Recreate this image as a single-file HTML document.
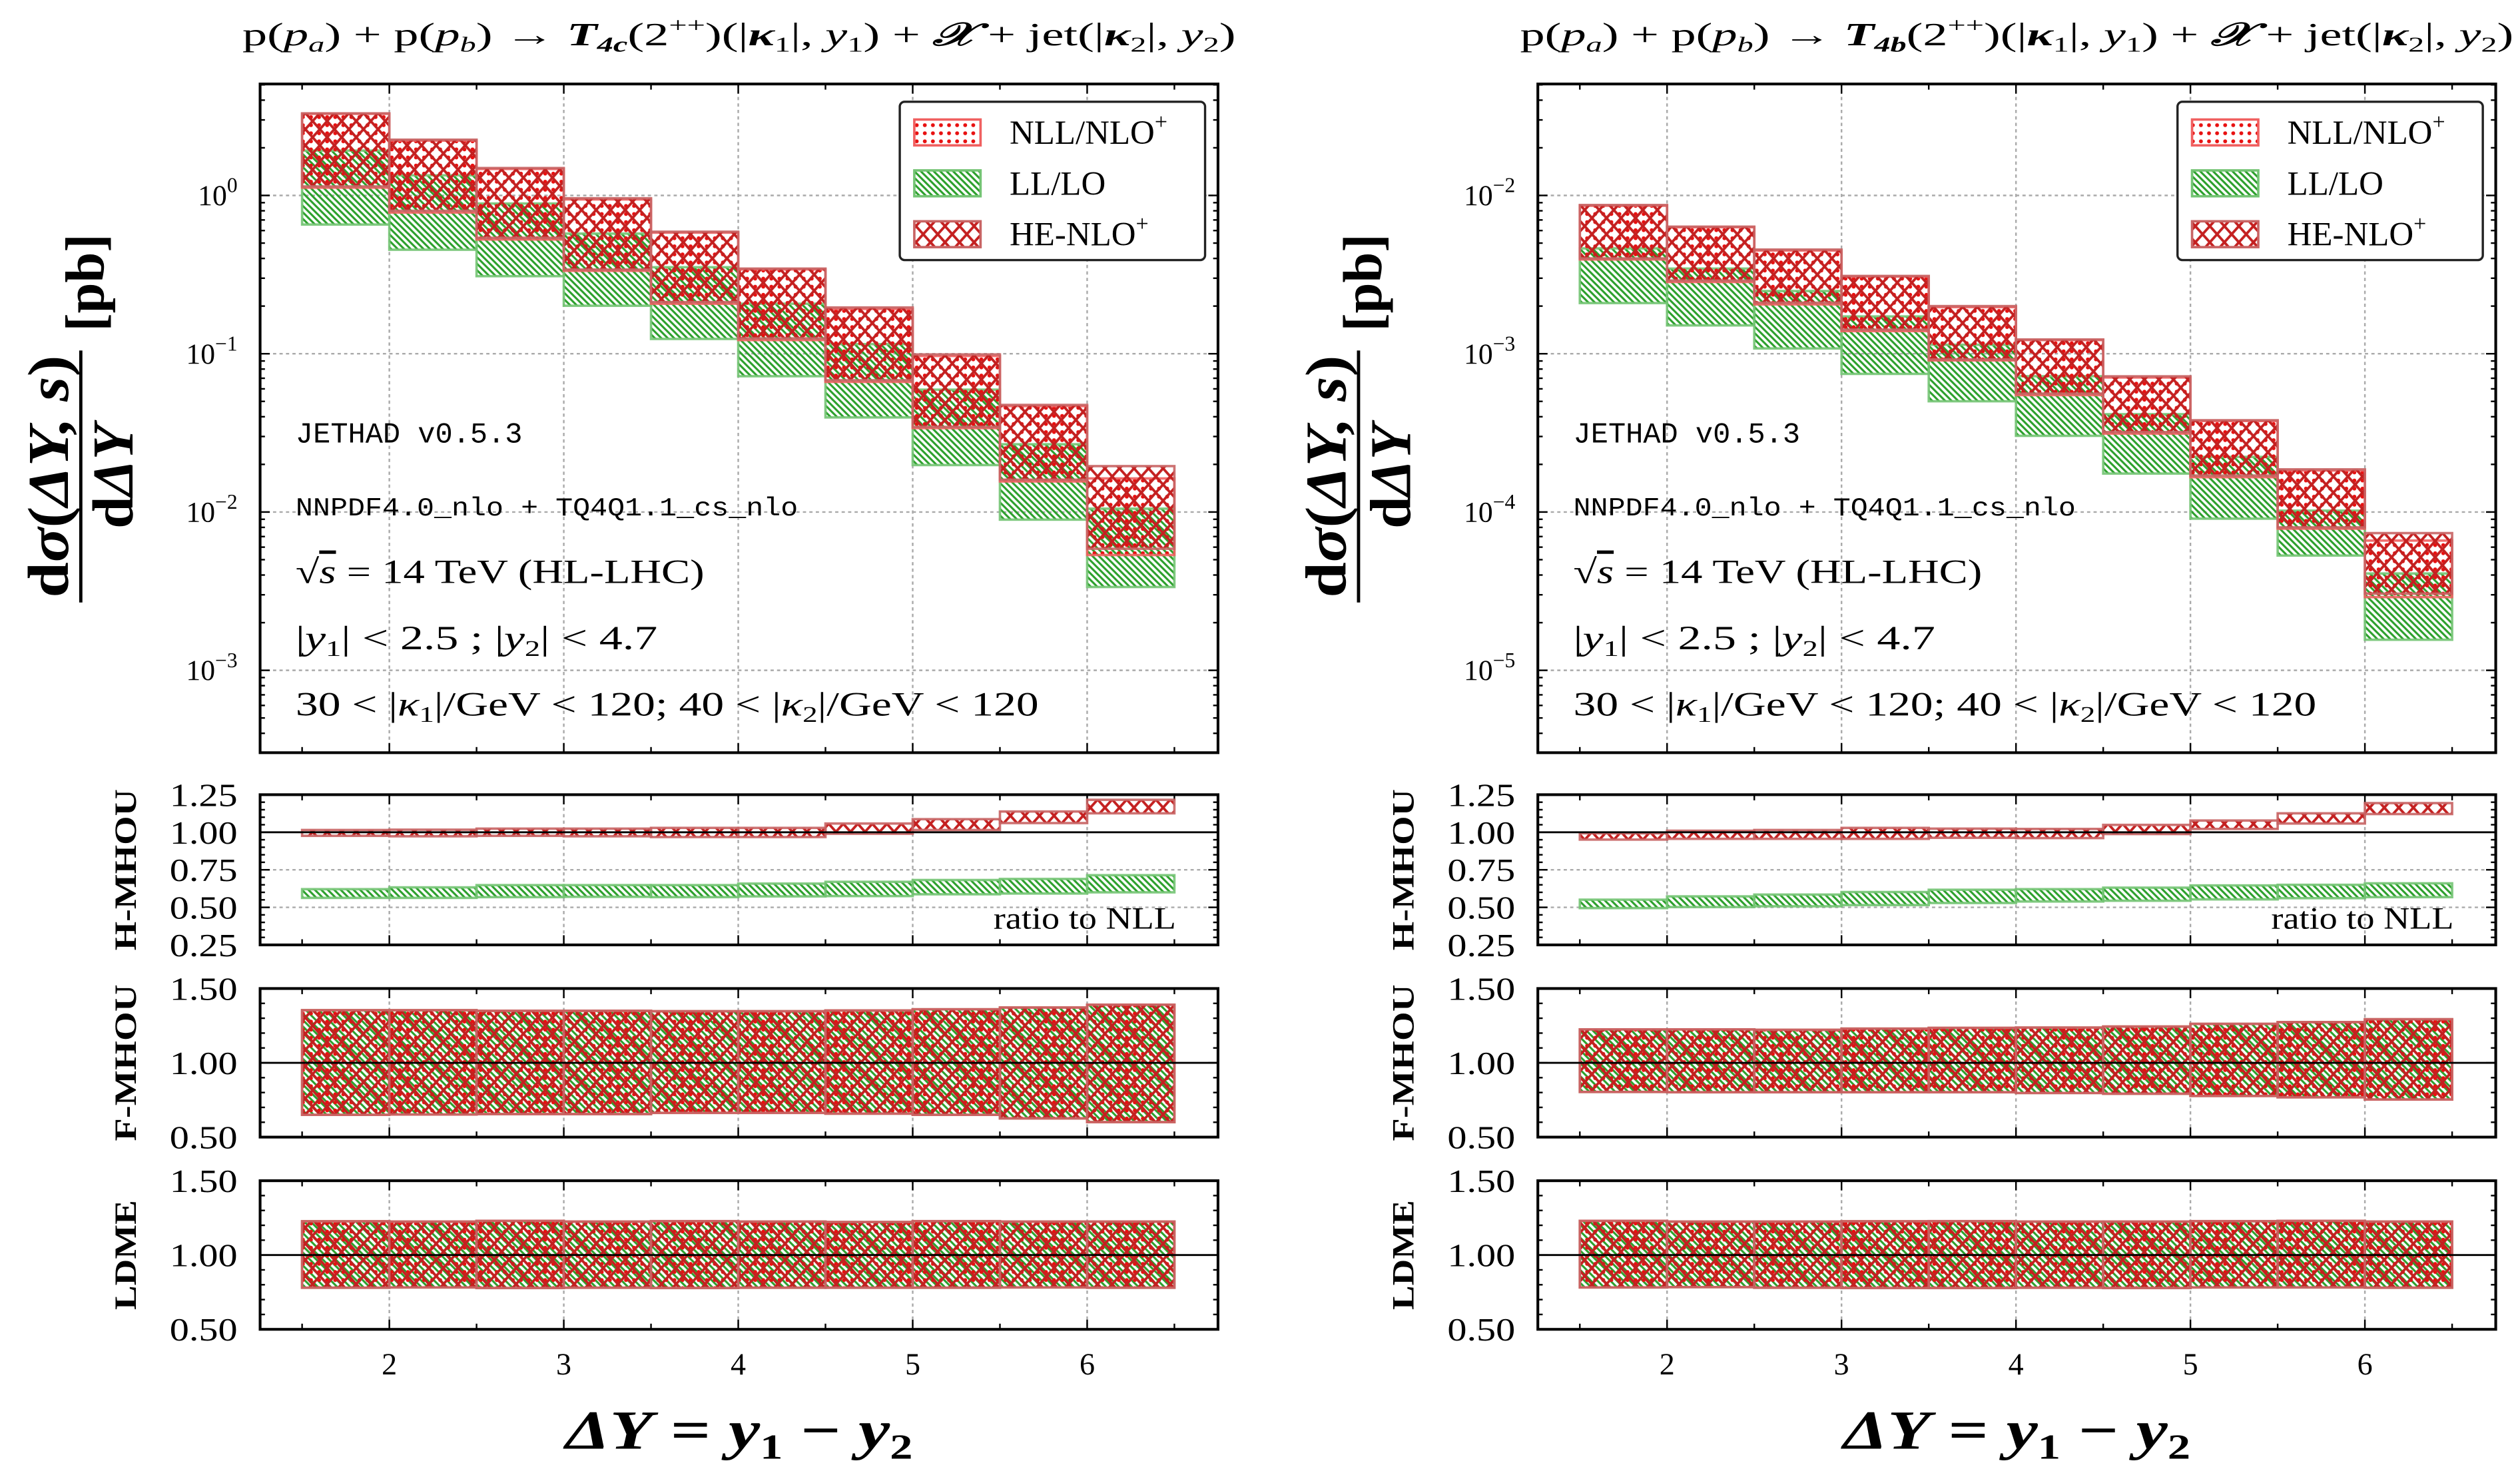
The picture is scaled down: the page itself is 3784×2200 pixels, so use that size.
<!DOCTYPE html>
<html><head><meta charset="utf-8"><style>
html,body{margin:0;padding:0;background:#fff}
svg{display:block}
text{font-family:"Liberation Serif",serif;fill:#000}
.mono{font-family:"Liberation Mono",monospace}
</style></head><body>
<svg id="chart" xmlns="http://www.w3.org/2000/svg" width="3784" height="2200" viewBox="0 0 1560 907">
<defs>
<pattern id="pLL" patternUnits="userSpaceOnUse" width="4" height="4"><path d="M-1,-1 L5,5 M-1,3 L1,5 M3,-1 L5,1" stroke="#2ca02c" stroke-width="1.3"/></pattern>
<pattern id="pNLL" patternUnits="userSpaceOnUse" width="5" height="5"><circle cx="2.5" cy="2.5" r="1.2" fill="#e81010"/></pattern>
<pattern id="pHE" patternUnits="userSpaceOnUse" width="9" height="10"><path d="M0,0 L9,10 M9,0 L0,10" stroke="#c42020" stroke-width="1.6"/></pattern>
</defs>
<g id="plots"></g>
<text x="150" y="28" font-size="20" textLength="615" lengthAdjust="spacingAndGlyphs">p(<tspan font-style="italic">p</tspan><tspan font-style="italic" font-size="13" dy="4">a</tspan><tspan dy="-4">) + p(</tspan><tspan font-style="italic">p</tspan><tspan font-style="italic" font-size="13" dy="4">b</tspan><tspan dy="-4">) → </tspan><tspan font-style="italic" font-weight="bold">T</tspan><tspan font-size="13" dy="4" font-weight="bold" font-style="italic">4c</tspan><tspan dy="-4">(2</tspan><tspan font-size="13" dy="-8">++</tspan><tspan dy="8">)(|</tspan><tspan font-style="italic" font-weight="bold">κ</tspan><tspan font-size="13" dy="4">1</tspan><tspan dy="-4">|, </tspan><tspan font-style="italic">y</tspan><tspan font-size="13" dy="4">1</tspan><tspan dy="-4">) + </tspan><tspan font-style="italic" font-weight="bold">𝒳</tspan><tspan> + jet(|</tspan><tspan font-style="italic" font-weight="bold">κ</tspan><tspan font-size="13" dy="4">2</tspan><tspan dy="-4">|, </tspan><tspan font-style="italic">y</tspan><tspan font-size="13" dy="4">2</tspan><tspan dy="-4">)</tspan></text>
<text x="941" y="28" font-size="20" textLength="615" lengthAdjust="spacingAndGlyphs">p(<tspan font-style="italic">p</tspan><tspan font-style="italic" font-size="13" dy="4">a</tspan><tspan dy="-4">) + p(</tspan><tspan font-style="italic">p</tspan><tspan font-style="italic" font-size="13" dy="4">b</tspan><tspan dy="-4">) → </tspan><tspan font-style="italic" font-weight="bold">T</tspan><tspan font-size="13" dy="4" font-weight="bold" font-style="italic">4b</tspan><tspan dy="-4">(2</tspan><tspan font-size="13" dy="-8">++</tspan><tspan dy="8">)(|</tspan><tspan font-style="italic" font-weight="bold">κ</tspan><tspan font-size="13" dy="4">1</tspan><tspan dy="-4">|, </tspan><tspan font-style="italic">y</tspan><tspan font-size="13" dy="4">1</tspan><tspan dy="-4">) + </tspan><tspan font-style="italic" font-weight="bold">𝒳</tspan><tspan> + jet(|</tspan><tspan font-style="italic" font-weight="bold">κ</tspan><tspan font-size="13" dy="4">2</tspan><tspan dy="-4">|, </tspan><tspan font-style="italic">y</tspan><tspan font-size="13" dy="4">2</tspan><tspan dy="-4">)</tspan></text>
</svg>
<script>
const NS='http://www.w3.org/2000/svg';
// ---- data ----
const binStarts=[1.5,2,2.5,3,3.5,4,4.5,5,5.5,6];
const binWidth=0.5;
const xTicks=[2,3,4,5,6];
// left (T4c), pb
const L_nllHi=[3.28,2.22,1.47,0.944,0.582,0.341,0.192,0.0968,0.0467,0.0163];
const L_nllLo=[1.12,0.78,0.527,0.334,0.207,0.122,0.0664,0.0339,0.0156,0.00535];
const L_heHi=[3.30,2.25,1.49,0.96,0.59,0.345,0.196,0.099,0.0475,0.0195];
const L_heLo=[1.14,0.80,0.54,0.34,0.212,0.125,0.068,0.0345,0.016,0.00586];
const L_llHi=[1.92,1.34,0.889,0.574,0.352,0.207,0.115,0.0593,0.0268,0.0105];
const L_llLo=[0.655,0.454,0.309,0.201,0.124,0.0721,0.0396,0.0198,0.00895,0.00336];
// right (T4b), pb
const R_nllHi=[8.61e-3,6.30e-3,4.49e-3,3.07e-3,1.97e-3,1.22e-3,7.08e-4,3.76e-4,1.83e-4,6.6e-5];
const R_nllLo=[3.94e-3,2.84e-3,2.05e-3,1.39e-3,9.08e-4,5.48e-4,3.13e-4,1.66e-4,7.85e-5,2.9e-5];
const R_heHi=[8.7e-3,6.35e-3,4.55e-3,3.1e-3,2.0e-3,1.23e-3,7.2e-4,3.8e-4,1.86e-4,7.36e-5];
const R_heLo=[4.0e-3,2.9e-3,2.1e-3,1.42e-3,9.2e-4,5.6e-4,3.2e-4,1.7e-4,8.0e-5,3.05e-5];
const R_llHi=[4.63e-3,3.45e-3,2.49e-3,1.72e-3,1.14e-3,7.21e-4,4.15e-4,2.23e-4,1.02e-4,4.09e-5];
const R_llLo=[2.09e-3,1.51e-3,1.08e-3,7.46e-4,5.01e-4,3.03e-4,1.75e-4,9.08e-5,5.31e-5,1.56e-5];
// H-MHOU ratio to NLL
const L_hHeHi=[1.015,1.017,1.024,1.024,1.029,1.029,1.058,1.087,1.138,1.216];
const L_hHeLo=[0.976,0.973,0.976,0.973,0.968,0.968,0.990,1.015,1.061,1.126];
const L_hLlHi=[0.621,0.633,0.648,0.648,0.648,0.658,0.670,0.682,0.689,0.714];
const L_hLlLo=[0.563,0.563,0.568,0.570,0.568,0.573,0.575,0.587,0.592,0.600];
const R_hHeHi=[0.993,1.010,1.015,1.029,1.024,1.022,1.049,1.078,1.126,1.194];
const R_hHeLo=[0.951,0.956,0.956,0.956,0.963,0.961,0.988,1.022,1.058,1.121];
const R_hLlHi=[0.551,0.573,0.585,0.602,0.617,0.621,0.631,0.646,0.650,0.660];
const R_hLlLo=[0.495,0.502,0.507,0.515,0.529,0.539,0.544,0.553,0.561,0.568];
// F-MHOU
const L_fHi=[1.354,1.354,1.350,1.350,1.347,1.347,1.352,1.360,1.372,1.391];
const L_fLo=[0.650,0.652,0.655,0.655,0.663,0.663,0.658,0.650,0.626,0.601];
const R_fHi=[1.225,1.225,1.222,1.230,1.235,1.237,1.244,1.262,1.274,1.293];
const R_fLo=[0.804,0.802,0.802,0.802,0.802,0.797,0.792,0.777,0.768,0.753];
// LDME
const L_lHi=[1.227,1.225,1.230,1.225,1.228,1.225,1.222,1.228,1.225,1.225];
const L_lLo=[0.780,0.782,0.778,0.780,0.778,0.780,0.780,0.780,0.782,0.780];
const R_lHi=[1.230,1.225,1.225,1.227,1.228,1.225,1.225,1.228,1.230,1.225];
const R_lLo=[0.782,0.784,0.780,0.778,0.778,0.780,0.778,0.782,0.782,0.780];

const root=document.getElementById('plots');
function mk(tag,attrs,parent){const e=document.createElementNS(NS,tag);for(const k in attrs)e.setAttribute(k,attrs[k]);(parent||root).appendChild(e);return e;}

const FX0=161,FX1=754;
function xmap(v,ox){return ox+241+(v-2)*108;}

const styles={
 ll:{fill:'url(#pLL)',stroke:'#74c474'},
 nll:{fill:'url(#pNLL)',stroke:'#f06060'},
 he:{fill:'url(#pHE)',stroke:'#c86464'}
};
function bands(ox,ymap,lo,hi,st,name,g){
  for(let i=0;i<binStarts.length;i++){
    const x0=xmap(binStarts[i],ox),x1=xmap(binStarts[i]+binWidth,ox);
    const y0=ymap(hi[i]),y1=ymap(lo[i]);
    const r=mk('rect',{x:x0,y:y0,width:x1-x0,height:y1-y0,fill:st.fill,stroke:st.stroke,'stroke-width':1.5,'stroke-opacity':0.9},g);
    
    
  }
}
function frame(ox,y0,y1,name){
  const r=mk('rect',{x:ox+FX0,y:y0,width:FX1-FX0,height:y1-y0,fill:'none',stroke:'#000','stroke-width':1.7});
  
  
}
function vgrid(ox,y0,y1,g){
  xTicks.forEach(t=>{const x=xmap(t,ox);
    const l=mk('line',{x1:x,x2:x,y1:y0,y2:y1,stroke:'#aaa','stroke-width':1,'stroke-dasharray':'2,2'},g);
    
    });
}
function xticks(ox,y0,y1,g){
  for(let v=1.5;v<=6.5;v+=0.5){const x=xmap(v,ox);const maj=Number.isInteger(v);const L=maj?6:3.5;
    mk('line',{x1:x,x2:x,y1:y1,y2:y1-L,stroke:'#000','stroke-width':1},g);
    mk('line',{x1:x,x2:x,y1:y0,y2:y0+L,stroke:'#000','stroke-width':1},g);}
}
function yticksLin(ox,ymap,lo,hi,minStep,majStep,g){
  const n=Math.round((hi-lo)/minStep);
  for(let i=0;i<=n;i++){const v=lo+i*minStep;const y=ymap(v);
    const maj=Math.abs(v/majStep-Math.round(v/majStep))<1e-6;const L=maj?6:3;
    mk('line',{x1:ox+FX0,x2:ox+FX0+L,y1:y,y2:y,stroke:'#000','stroke-width':1},g);
    mk('line',{x1:ox+FX1,x2:ox+FX1-L,y1:y,y2:y,stroke:'#000','stroke-width':1},g);}
}

function panel(side,ox,dec0,D){
  const g=mk('g',{});
  
  
  const Y0=52,Y1=466;
  const ym=v=>121-(Math.log10(v)-dec0)*98;
  const gm=mk('g',{},g);
  
  
  vgrid(ox,Y0,Y1,gm);
  for(let d=0;d>=-3;d--){const y=ym(Math.pow(10,dec0+d));
    const l=mk('line',{x1:ox+FX0,x2:ox+FX1,y1:y,y2:y,stroke:'#aaa','stroke-width':1,'stroke-dasharray':'2,2'},gm);
    
    
    const t=mk('text',{x:ox+147,y:y+6,'font-size':18,'text-anchor':'end'},gm);
    
    
    t.textContent='10';
    const s=mk('tspan',{dy:-8,'font-size':13},t);s.textContent=(dec0+d===0?'0':'−'+(-(dec0+d)));
  }
  for(let d=dec0-4;d<=dec0+1;d++){for(let k=1;k<=9;k++){const y=ym(k*Math.pow(10,d));if(y<Y0||y>Y1)continue;const L=k===1?6:3;
    mk('line',{x1:ox+FX0,x2:ox+FX0+L,y1:y,y2:y,stroke:'#000','stroke-width':1},gm);
    mk('line',{x1:ox+FX1,x2:ox+FX1-L,y1:y,y2:y,stroke:'#000','stroke-width':1},gm);}}
  xticks(ox,Y0,Y1,gm);
  bands(ox,ym,D.llLo,D.llHi,styles.ll,'ll-band',gm);
  bands(ox,ym,D.nllLo,D.nllHi,styles.nll,'nll-band',gm);
  bands(ox,ym,D.heLo,D.heHi,styles.he,'he-band',gm);
  frame(ox,Y0,Y1,side+'-main-frame');
  // legend
  const lg=mk('g',{},gm);
  
  
  mk('rect',{x:ox+557,y:63,width:189,height:98,rx:3,fill:'#fff',stroke:'#222','stroke-width':1.4},lg);
  [['nll','NLL/NLO','+',110],['ll','LL/LO','',66],['he','HE-NLO','+',94]].forEach((e,i)=>{
    const y=82+i*31.5;
    const sw=mk('rect',{x:ox+566,y:y-8,width:41,height:16,fill:styles[e[0]].fill,stroke:styles[e[0]].stroke,'stroke-width':1.5},lg);
    
    
    const t=mk('text',{x:ox+625,y:y+7,'font-size':21},lg);
    
    
    t.textContent=e[1];
    if(e[2]){const s=mk('tspan',{dy:-9,'font-size':14},t);s.textContent=e[2];}
  });
  // annotations
  let t=mk('text',{x:ox+183,y:274,'font-size':18,class:'mono'},gm);
  
  
  t.textContent='JETHAD v0.5.3';
  t=mk('text',{x:ox+183,y:319,'font-size':16,class:'mono',textLength:311,lengthAdjust:'spacingAndGlyphs'},gm);
  
  
  t.textContent='NNPDF4.0_nlo + TQ4Q1.1_cs_nlo';
  t=mk('text',{x:ox+183,y:361,'font-size':21,textLength:253,lengthAdjust:'spacingAndGlyphs'},gm);
  
  
  t.innerHTML='√<tspan font-style="italic" text-decoration="overline">s</tspan> = 14 TeV (HL-LHC)';
  t=mk('text',{x:ox+183,y:402,'font-size':21,textLength:224,lengthAdjust:'spacingAndGlyphs'},gm);
  
  
  t.innerHTML='|<tspan font-style="italic">y</tspan><tspan font-size="14" dy="4">1</tspan><tspan dy="-4">| &lt; 2.5 ;   |</tspan><tspan font-style="italic">y</tspan><tspan font-size="14" dy="4">2</tspan><tspan dy="-4">| &lt; 4.7</tspan>';
  t=mk('text',{x:ox+183,y:443,'font-size':21,textLength:460,lengthAdjust:'spacingAndGlyphs'},gm);
  
  
  t.innerHTML='30 &lt; |<tspan font-style="italic">κ</tspan><tspan font-size="14" dy="4">1</tspan><tspan dy="-4">|/GeV &lt; 120; 40 &lt; |</tspan><tspan font-style="italic">κ</tspan><tspan font-size="14" dy="4">2</tspan><tspan dy="-4">|/GeV &lt; 120</tspan>';
  // y axis title
  const yt=mk('g',{transform:`translate(${ox+50},295) rotate(-90)`},g);
  
  
  let a=mk('text',{x:0,y:-8,'font-size':36,'font-weight':'bold','text-anchor':'middle',textLength:150,lengthAdjust:'spacingAndGlyphs'},yt);a.innerHTML='d<tspan font-style="italic">σ</tspan>(<tspan font-style="italic">ΔY, s</tspan>)';
  mk('line',{x1:-78,x2:78,y1:0,y2:0,stroke:'#000','stroke-width':2},yt);
  a=mk('text',{x:0,y:32,'font-size':36,'font-weight':'bold','text-anchor':'middle'},yt);a.innerHTML='d<tspan font-style="italic">ΔY</tspan>';
  a=mk('text',{x:120,y:14,'font-size':34,'font-weight':'bold','text-anchor':'middle'},yt);a.textContent='[pb]';

  // ratio panels
  const rp=[
   {name:'H-MHOU',w:100,y0:492,y1:585,lo:0.25,hi:1.25,min:0.05,maj:0.25,labels:[0.25,0.5,0.75,1.0,1.25],grid:[0.5,0.75],
    bands:[[D.hLlLo,D.hLlHi,'ll'],[D.hHeLo,D.hHeHi,'he']]},
   {name:'F-MHOU',w:97,y0:612,y1:704,lo:0.5,hi:1.5,min:0.1,maj:0.5,labels:[0.5,1.0,1.5],grid:[],
    bands:[[D.fLo,D.fHi,'ll'],[D.fLo,D.fHi,'nll'],[D.fLo,D.fHi,'he']]},
   {name:'LDME',w:68,y0:731,y1:823,lo:0.5,hi:1.5,min:0.1,maj:0.5,labels:[0.5,1.0,1.5],grid:[],
    bands:[[D.lLo,D.lHi,'ll'],[D.lLo,D.lHi,'nll'],[D.lLo,D.lHi,'he']]}
  ];
  rp.forEach(p=>{
    const gp=mk('g',{},g);
    
    
    const yr=v=>p.y0+(p.hi-v)/(p.hi-p.lo)*(p.y1-p.y0);
    vgrid(ox,p.y0,p.y1,gp);
    p.grid.forEach(v=>{const l=mk('line',{x1:ox+FX0,x2:ox+FX1,y1:yr(v),y2:yr(v),stroke:'#aaa','stroke-width':1,'stroke-dasharray':'2,2'},gp);
      
      });
    yticksLin(ox,yr,p.lo,p.hi,p.min,p.maj,gp);
    xticks(ox,p.y0,p.y1,gp);
    p.bands.forEach(b=>bands(ox,yr,b[0],b[1],styles[b[2]],p.name.toLowerCase()+'-'+b[2]+'-band',gp));
    const one=mk('line',{x1:ox+FX0,x2:ox+FX1,y1:yr(1),y2:yr(1),stroke:'#000','stroke-width':1.2},gp);
    
    
    frame(ox,p.y0,p.y1,side+'-'+p.name.toLowerCase()+'-frame');
    p.labels.forEach(v=>{const tt=mk('text',{x:ox+147,y:yr(v)+7,'font-size':20,'text-anchor':'end',textLength:42,lengthAdjust:'spacingAndGlyphs'},gp);
      
      
      tt.textContent=v.toFixed(2);});
    const lab=mk('text',{transform:`translate(${ox+84},${(p.y0+p.y1)/2}) rotate(-90)`,'font-size':19,'font-weight':'bold','text-anchor':'middle',textLength:p.w,lengthAdjust:'spacingAndGlyphs'},gp);
    
    
    lab.textContent=p.name;
    if(p.name==='H-MHOU'){const r=mk('text',{x:ox+615,y:575,'font-size':19,textLength:113,lengthAdjust:'spacingAndGlyphs'},gp);
      
      
      r.textContent='ratio to NLL';}
  });
  xTicks.forEach(v=>{const tt=mk('text',{x:xmap(v,ox),y:851,'font-size':19,'text-anchor':'middle'},g);
    
    
    tt.textContent=v;});
  const xt=mk('text',{x:ox+350,y:897,'font-size':34,'font-weight':'bold',textLength:215,lengthAdjust:'spacingAndGlyphs'},g);
  
  
  xt.innerHTML='<tspan font-style="italic">ΔY</tspan> = <tspan font-style="italic">y</tspan><tspan font-size="22" dy="6">1</tspan><tspan dy="-6"> − </tspan><tspan font-style="italic">y</tspan><tspan font-size="22" dy="6">2</tspan>';
}
panel('left',0,0,{nllHi:L_nllHi,nllLo:L_nllLo,heHi:L_heHi,heLo:L_heLo,llHi:L_llHi,llLo:L_llLo,
  hHeHi:L_hHeHi,hHeLo:L_hHeLo,hLlHi:L_hLlHi,hLlLo:L_hLlLo,fHi:L_fHi,fLo:L_fLo,lHi:L_lHi,lLo:L_lLo});
panel('right',791,-2,{nllHi:R_nllHi,nllLo:R_nllLo,heHi:R_heHi,heLo:R_heLo,llHi:R_llHi,llLo:R_llLo,
  hHeHi:R_hHeHi,hHeLo:R_hHeLo,hLlHi:R_hLlHi,hLlLo:R_hLlLo,fHi:R_fHi,fLo:R_fLo,lHi:R_lHi,lLo:R_lLo});
</script>
</body></html>
